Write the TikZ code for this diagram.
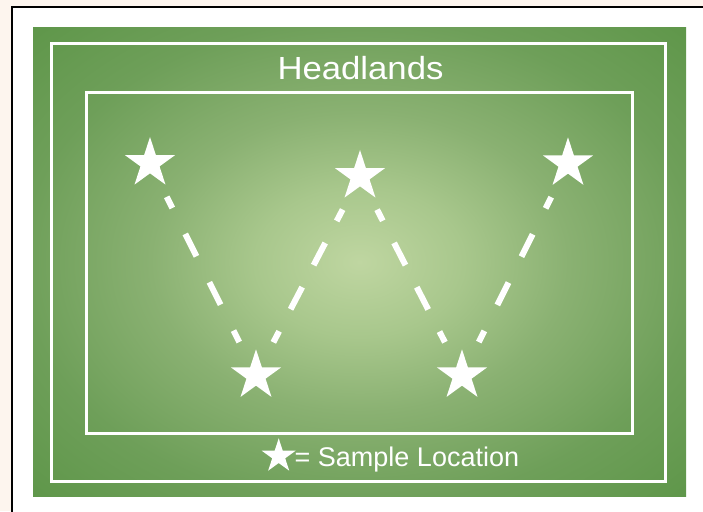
\documentclass[tikz,border=0pt]{standalone}
\usepackage{fontspec}
\setmainfont{Liberation Sans}
\newfontfamily\headfont[FakeStretch=1.085]{Liberation Sans}
\usetikzlibrary{shapes.geometric}
\definecolor{cream}{HTML}{FDF5EE}
\definecolor{fc0}{HTML}{BFD6A1}
\definecolor{fc1}{HTML}{A8C78C}
\definecolor{fc2}{HTML}{8AB172}
\definecolor{fc3}{HTML}{6E9F59}
\definecolor{fc4}{HTML}{5E9649}
\definecolor{fc5}{HTML}{558F44}
\definecolor{fc6}{HTML}{4E8A3E}
\pgfdeclareradialshading{fieldshade}{\pgfpoint{0bp}{0bp}}{color(0bp)=(fc0); color(8bp)=(fc1); color(16bp)=(fc2); color(26bp)=(fc3); color(36bp)=(fc4); color(50bp)=(fc5); color(72bp)=(fc6)}
\begin{document}
\begin{tikzpicture}[x=1pt,y=1pt,
  samplestar/.style={star, star points=5, star point ratio=2.618, fill=white, draw=none, inner sep=0pt, minimum size=52.6pt},
  walklong/.style={white, line width=6pt, shorten <=37.5pt, shorten >=37.5pt, dash pattern=on 25pt off 29pt, dash phase=12.5pt},
  walkshort/.style={white, line width=6pt, shorten <=37.5pt, shorten >=37.5pt, dash pattern=on 25pt off 24.8pt, dash phase=12.5pt},
  label/.style={inner sep=0pt, text=white}]
\fill[cream] (0,0) rectangle (703,511);
\useasboundingbox (0,0) rectangle (703,511);
\draw[black, line width=1.5pt, fill=white] (12,504) rectangle (730,-30);
\shade[shading=fieldshade] (33,483) rectangle (686,15);
\draw[white, line width=3.2pt] (51.5,467.5) rectangle (665.5,29.5);
\draw[white, line width=3pt] (86,418) rectangle (632,78);
\node[samplestar] (s1) at (150,347.7) {};
\node[samplestar] (s2) at (360,334.7) {};
\node[samplestar] (s3) at (568,347.4) {};
\node[samplestar] (s4) at (256,135.4) {};
\node[samplestar] (s5) at (462,135.4) {};
\draw[walklong] (s1.center) -- (s4.center);
\draw[walkshort] (s4.center) -- (s2.center);
\draw[walkshort] (s2.center) -- (s5.center);
\draw[walklong] (s5.center) -- (s3.center);
\node[label, anchor=base, font=\headfont\fontsize{32}{32}\selectfont] (head) at (360.5,431.7) {Headlands};
\node[samplestar, minimum size=35.8pt] (key) at (278.7,54.8) {};
\node[label, anchor=base west, font=\fontsize{27}{27}\selectfont] (keytext) at (294.5,44.3) {= Sample Location};
\end{tikzpicture}
\end{document}
